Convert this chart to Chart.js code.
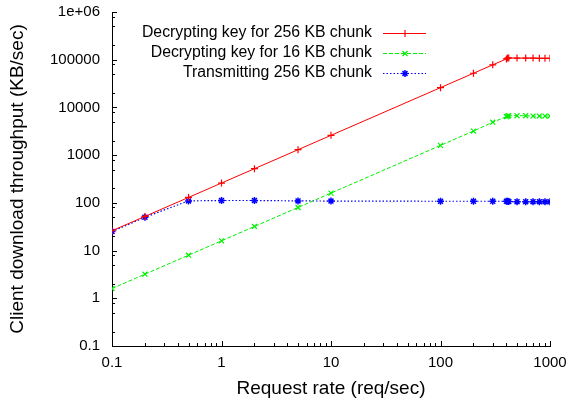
<!DOCTYPE html>
<html>
<head>
<meta charset="utf-8">
<script src="https://cdn.jsdelivr.net/npm/chart.js@4/dist/chart.umd.min.js"></script>
<style>
  html, body { margin: 0; padding: 0; background: #fff; }
  canvas { display: block; }
</style>
</head>
<body>
<canvas id="c" width="570" height="400"></canvas>
<script>
// ---- data ----
const rates = [0.1, 0.2, 0.5, 1, 2, 5, 10, 100, 200, 300, 400, 410, 420, 500, 600, 700, 800, 900, 1000];
const decrypt256 = [26, 52, 130, 260, 520, 1300, 2600, 26000, 52000, 78000, 104000, 108000, 109000, 108000, 108000, 108000, 107000, 107000, 107000];
const decrypt16 = [1.6, 3.2, 8, 16, 32, 80, 160, 1600, 3200, 4900, 6400, 6600, 6700, 6700, 6700, 6600, 6600, 6600, 6600];
const transmit256 = [25, 50, 110, 112, 112, 110, 109, 108, 108, 108, 108, 108, 107, 106, 106, 106, 106, 105, 105];
const seriesLabels = ['Decrypting key for 256 KB chunk', 'Decrypting key for 16 KB chunk', 'Transmitting 256 KB chunk'];
const xTickValues = [0.1, 1, 10, 100, 1000];
const xTickLabels = ['0.1', '1', '10', '100', '1000'];
const yTickValues = [0.1, 1, 10, 100, 1000, 10000, 100000, 1000000];
const yTickLabels = ['0.1', '1', '10', '100', '1000', '10000', '100000', '1e+06'];
const xMinorMultiples = [2, 3, 4, 5, 6, 7, 8, 9];
const yMinorMultiples = [2, 5, 8];
const xTitle = 'Request rate (req/sec)';
const yTitle = 'Client download throughput (KB/sec)';

const FONT = "'Liberation Sans', Arial, Helvetica, sans-serif";

function pts(vals) { return rates.map((r, i) => ({ x: r, y: vals[i] })); }

const gpTicks = {
  id: 'gpTicks',
  afterDatasetsDraw(chart) {
    const { ctx, chartArea: { left, bottom }, scales: { x, y } } = chart;
    const major = 5, minor = 3;
    ctx.save();
    ctx.strokeStyle = '#000';
    ctx.lineWidth = 1;
    ctx.beginPath();
    xTickValues.forEach((v, i) => {
      const px = Math.round(x.getPixelForValue(v)) + 0.5;
      ctx.moveTo(px, bottom); ctx.lineTo(px, bottom - major);
      if (i < xTickValues.length - 1) {
        xMinorMultiples.forEach(m => {
          const q = Math.round(x.getPixelForValue(v * m)) + 0.5;
          ctx.moveTo(q, bottom); ctx.lineTo(q, bottom - minor);
        });
      }
    });
    yTickValues.forEach((v, i) => {
      const py = Math.round(y.getPixelForValue(v)) + 0.5;
      ctx.moveTo(left, py); ctx.lineTo(left + major, py);
      if (i < yTickValues.length - 1) {
        yMinorMultiples.forEach(m => {
          const q = Math.round(y.getPixelForValue(v * m)) + 0.5;
          ctx.moveTo(left, q); ctx.lineTo(left + minor, q);
        });
      }
    });
    ctx.stroke();
    ctx.restore();
  }
};

const gpLegend = {
  id: 'gpLegend',
  afterDatasetsDraw(chart) {
    const ctx = chart.ctx;
    const textRight = 372, lineL = 383, lineR = 426, mark = 405;
    const rowY = [33, 53, 72.5];
    chart.data.datasets.forEach((ds, i) => {
      const yy = rowY[i];
      ctx.save();
      ctx.font = '15.8px ' + FONT;
      ctx.fillStyle = '#000';
      ctx.textAlign = 'right';
      ctx.textBaseline = 'middle';
      ctx.fillText(ds.label, textRight, yy);
      ctx.strokeStyle = ds.borderColor;
      ctx.fillStyle = ds.borderColor;
      ctx.lineWidth = ds.borderWidth;
      ctx.setLineDash(ds.borderDash || []);
      ctx.beginPath();
      ctx.moveTo(lineL, Math.round(yy) + 0.5);
      ctx.lineTo(lineR, Math.round(yy) + 0.5);
      ctx.stroke();
      ctx.setLineDash([]);
      ctx.lineWidth = ds.pointBorderWidth;
      if (Chart.helpers && Chart.helpers.drawPoint) {
        Chart.helpers.drawPoint(ctx, { pointStyle: ds.pointStyle, radius: ds.pointRadius, borderWidth: ds.pointBorderWidth, rotation: 0 }, mark, Math.round(yy) + 0.5);
      }
      ctx.restore();
    });
  }
};

const whiteBg = {
  id: 'whiteBg',
  beforeDraw(chart) {
    const ctx = chart.ctx;
    ctx.save();
    ctx.fillStyle = '#fff';
    ctx.fillRect(0, 0, chart.width, chart.height);
    ctx.restore();
  }
};

new Chart(document.getElementById('c'), {
  type: 'scatter',
  data: {
    datasets: [
      { label: seriesLabels[0], data: pts(decrypt256), showLine: true, borderColor: '#ff0000', backgroundColor: '#ff0000',
        borderWidth: 1, pointStyle: 'cross', pointRadius: 3.5, pointBorderWidth: 1.2, pointHoverRadius: 3.5 },
      { label: seriesLabels[1], data: pts(decrypt16), showLine: true, borderColor: '#00f000', backgroundColor: '#00f000',
        borderWidth: 1, borderDash: [4, 2], pointStyle: 'crossRot', pointRadius: 3.5, pointBorderWidth: 1.2, pointHoverRadius: 3.5 },
      { label: seriesLabels[2], data: pts(transmit256), showLine: true, borderColor: '#0000ff', backgroundColor: '#0000ff',
        borderWidth: 1.2, borderDash: [1.5, 2], pointStyle: 'star', pointRadius: 3.5, pointBorderWidth: 1.5, pointHoverRadius: 3.5 }
    ]
  },
  options: {
    responsive: false,
    animation: false,
    events: [],
    layout: { padding: { top: 12, right: 20, left: 0, bottom: 0 } },
    plugins: { legend: { display: false }, tooltip: { enabled: false }, title: { display: false } },
    scales: {
      x: {
        type: 'logarithmic', min: 0.1, max: 1000,
        afterBuildTicks: (s) => { s.ticks = xTickValues.map(v => ({ value: v })); },
        afterFit: (s) => { s.height = 54; s.paddingLeft = 0; s.paddingRight = 0; },
        grid: { display: false, drawTicks: false },
        border: { display: true, color: '#000', width: 1 },
        ticks: { autoSkip: false, maxRotation: 0, padding: 8, color: '#000', font: { family: FONT, size: 15 },
                 callback: (v, i) => xTickLabels[i] },
        title: { display: true, text: xTitle, color: '#000', font: { family: FONT, size: 19 }, padding: { top: 0, bottom: 0 } }
      },
      y: {
        type: 'logarithmic', min: 0.1, max: 1000000,
        afterBuildTicks: (s) => { s.ticks = yTickValues.map(v => ({ value: v })); },
        afterFit: (s) => { s.width = 112; s.paddingTop = 0; s.paddingBottom = 0; },
        grid: { display: false, drawTicks: false },
        border: { display: true, color: '#000', width: 1 },
        ticks: { autoSkip: false, padding: 12, color: '#000', font: { family: FONT, size: 15 },
                 callback: (v, i) => yTickLabels[i] },
        title: { display: true, text: yTitle, color: '#000', font: { family: FONT, size: 19 }, padding: { top: 6, bottom: 0 } }
      }
    }
  },
  plugins: [whiteBg, gpTicks, gpLegend]
});
</script>
</body>
</html>
